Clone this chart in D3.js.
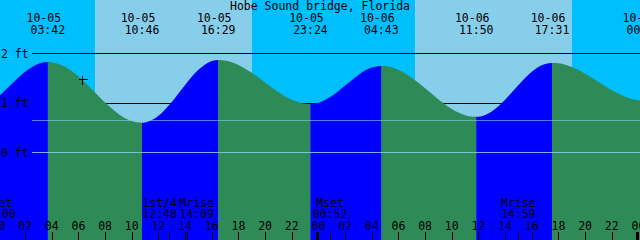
<!DOCTYPE html>
<html><head><meta charset="utf-8">
<script src="https://cdn.jsdelivr.net/npm/d3@7"></script>
<style>
html,body{margin:0;padding:0;background:#fff;overflow:hidden}
svg{display:block}
text{font-family:"DejaVu Sans Mono",monospace;font-size:11.5px;fill:#000}
</style>
</head><body>
<svg id="c" width="640" height="240"></svg>
<script>
// ---------------- data ----------------
const title = "Hobe Sound bridge, Florida";
const viewStart = "10-05 00:07";
const viewEnd = "10-07 00:07";
// hourly tide heights (ft) starting 10-05 00:00
const hourlyStart = "10-05 00:00";
const hourlyHeights = [1.124,1.382,1.630,1.794,1.825,1.730,1.535,1.279,1.009,0.780,
  0.635,0.605,0.740,1.021,1.365,1.671,1.848,1.858,1.769,1.609,
  1.413,1.219,1.066,0.987,1.004,1.140,1.352,1.568,1.716,1.746,
  1.670,1.509,1.297,1.073,0.879,0.754,0.722,0.829,1.066,1.362,
  1.630,1.788,1.801,1.726,1.591,1.423,1.256,1.125,1.056,1.070];
// high / low tides
const tideTimes = ["10-05 03:42","10-05 10:46","10-05 16:29","10-05 23:24","10-06 04:43","10-06 11:50","10-06 17:31","10-07 00:24"];
const tideKinds = ["high","low","high","low","high","low","high","low"];
const tideHeights = [1.83,0.60,1.87,0.98,1.75,0.72,1.81,1.05];
// sun
const sunTimes = ["10-05 07:15","10-05 19:00","10-06 07:15","10-06 19:00"];
const sunKinds = ["rise","set","rise","set"];
// moon events
const moonNames = ["Mset","1st/4","Mrise","Mset","Mrise"];
const moonTimes = ["10-05 00:00","10-05 12:48","10-05 14:09","10-06 00:52","10-06 14:59"];
// height grid lines
const footTicks = [0,1,2];
const mslLevel = 0.65;
const nowTime = "10-05 06:14";

// ---------------- helpers ----------------
function hrs(s){ // hours since 10-05 00:00
  const [md,hm]=s.split(" ");
  const day=+md.split("-")[1];
  const [h,m]=hm.split(":").map(Number);
  return (day-5)*24+h+m/60;
}
const pad=n=>String(n).padStart(2,"0");
const W=640,H=240;
const svg=d3.select("#c");
const t0=hrs(viewStart), t1=hrs(viewEnd);
const x=d3.scaleLinear().domain([t0,t1]).range([0,W]);
const y=d3.scaleLinear().domain([0,2]).range([152.5,53.5]);
const crisp=v=>Math.floor(v)+0.5;

const C={night:"#00BFFF",day:"#87CEEB",flood:"#0000FF",ebb:"#2E8B57"};

// series
const h0=hrs(hourlyStart);
let series=hourlyHeights.map((h,i)=>({t:h0+i,h}));
tideTimes.forEach((s,i)=>series.push({t:hrs(s),h:tideHeights[i]}));
series.sort((a,b)=>a.t-b.t);
series=series.filter((d,i,a)=>i===0||Math.abs(d.t-a[i-1].t)>0.02);

// ---------------- background day/night ----------------
const sunT=sunTimes.map(hrs);
const bounds=[t0,...sunT,t1];
const bg=[];
for(let i=0;i<bounds.length-1;i++){
  const nextKind = i<sunKinds.length ? sunKinds[i] : (sunKinds[sunKinds.length-1]==="set"?"rise":"set");
  bg.push({a:bounds[i],b:bounds[i+1],c: nextKind==="rise"?C.night:C.day});
}
svg.append("g").selectAll("rect").data(bg).join("rect")
  .attr("x",d=>x(d.a)).attr("width",d=>x(d.b)-x(d.a))
  .attr("y",0).attr("height",H).attr("fill",d=>d.c);

// black height lines (behind tide)
const gl=svg.append("g").attr("shape-rendering","crispEdges");
gl.selectAll("line").data(footTicks.filter(f=>f>0)).join("line")
  .attr("x1",32).attr("x2",W).attr("y1",d=>crisp(y(d))).attr("y2",d=>crisp(y(d)))
  .attr("stroke","#000").attr("stroke-width",1);

// ---------------- tide area ----------------
const area=d3.area().x(d=>x(d.t)).y0(H).y1(d=>y(d.h)).curve(d3.curveMonotoneX);
svg.append("clipPath").attr("id","tc").append("path").attr("d",area(series));
const tT=tideTimes.map(hrs);
const segB=[t0,...tT,t1];
const segs=[];
for(let i=0;i<segB.length-1;i++){
  const nk = i<tideKinds.length ? tideKinds[i] : (tideKinds[tideKinds.length-1]==="high"?"low":"high");
  segs.push({a:segB[i],b:segB[i+1],c: nk==="high"?C.flood:C.ebb});
}
svg.append("g").attr("clip-path","url(#tc)").selectAll("rect").data(segs).join("rect")
  .attr("x",d=>x(d.a)).attr("width",d=>x(d.b)-x(d.a)+0.3)
  .attr("y",0).attr("height",H).attr("fill",d=>d.c);

// light lines (datum + MSL) over tide
const ll=svg.append("g").attr("shape-rendering","crispEdges");
ll.append("line").attr("x1",32).attr("x2",W).attr("y1",crisp(y(0))).attr("y2",crisp(y(0)))
  .attr("stroke",C.day).attr("stroke-opacity",0.85);
ll.append("line").attr("x1",32).attr("x2",W).attr("y1",crisp(y(mslLevel))).attr("y2",crisp(y(mslLevel)))
  .attr("stroke",C.day).attr("stroke-opacity",0.6);

// foot labels
svg.append("g").selectAll("text").data(footTicks).join("text")
  .attr("x",1).attr("y",d=>y(d)+4).text(d=>d+" ft");

// ---------------- title + tide labels ----------------
svg.append("text").attr("x",W/2).attr("y",10).attr("text-anchor","middle").text(title);
const tl=svg.append("g").selectAll("g").data(tideTimes).join("g");
tl.append("text").attr("x",d=>x(hrs(d))-4).attr("y",22).attr("text-anchor","middle").text(d=>d.split(" ")[0]);
tl.append("text").attr("x",d=>x(hrs(d))).attr("y",33.5).attr("text-anchor","middle").text(d=>d.split(" ")[1]);

// ---------------- time axis ----------------
const evenHours=d3.range(0,49,2);
const axis=d3.axisTop(x).tickValues(evenHours).tickSize(8).tickPadding(2.5)
  .tickFormat(d=>pad(d%24));
const ax=svg.append("g").attr("transform",`translate(0,${H})`).call(axis);
ax.select(".domain").remove();
ax.selectAll("text").style("font-family",'"DejaVu Sans Mono",monospace').style("font-size","11.5px").attr("fill","#000").attr("dx","-0.5");
ax.selectAll(".tick line").attr("stroke","#000").attr("shape-rendering","crispEdges");
// day boundaries thick
svg.append("g").selectAll("rect").data(evenHours.filter(d=>d%24===0)).join("rect")
  .attr("x",d=>Math.round(x(d))-2).attr("width",3).attr("y",H-8).attr("height",8).attr("fill","#000");

// moon event ticks + labels
const mv=moonTimes.map((s,i)=>({n:moonNames[i],s,t:hrs(s)}));
mv.forEach(d=>d.cx=x(d.t));
for(let i=1;i<mv.length;i++){
  const gap=mv[i].cx-mv[i-1].cx;
  if(gap<37){const sh=(37-gap)/2;mv[i-1].cx-=sh;mv[i].cx+=sh;}
}
svg.append("g").attr("shape-rendering","crispEdges").selectAll("line").data(mv).join("line")
  .attr("x1",d=>crisp(x(d.t))).attr("x2",d=>crisp(x(d.t))).attr("y1",H-8).attr("y2",H).attr("stroke","#000");
const ml=svg.append("g").selectAll("g").data(mv).join("g");
ml.append("text").attr("x",d=>d.cx).attr("y",207).attr("text-anchor","middle").text(d=>d.n);
ml.append("text").attr("x",d=>d.cx).attr("y",218).attr("text-anchor","middle").text(d=>d.s.split(" ")[1]);

// ---------------- now marker ----------------
const nt=hrs(nowTime);
const bi=d3.bisector(d=>d.t).left(series,nt);
const pa=series[bi-1],pb=series[bi];
const nh=pa.h+(pb.h-pa.h)*(nt-pa.t)/(pb.t-pa.t);
const mx=Math.round(x(nt))+0.5,my=Math.round(y(nh))+0.5;
const mk=svg.append("g").attr("stroke","#000").attr("shape-rendering","crispEdges");
mk.append("line").attr("x1",mx-4).attr("x2",mx+5).attr("y1",my).attr("y2",my);
mk.append("line").attr("x1",mx).attr("x2",mx).attr("y1",my-4).attr("y2",my+5);
</script>
</body></html>
